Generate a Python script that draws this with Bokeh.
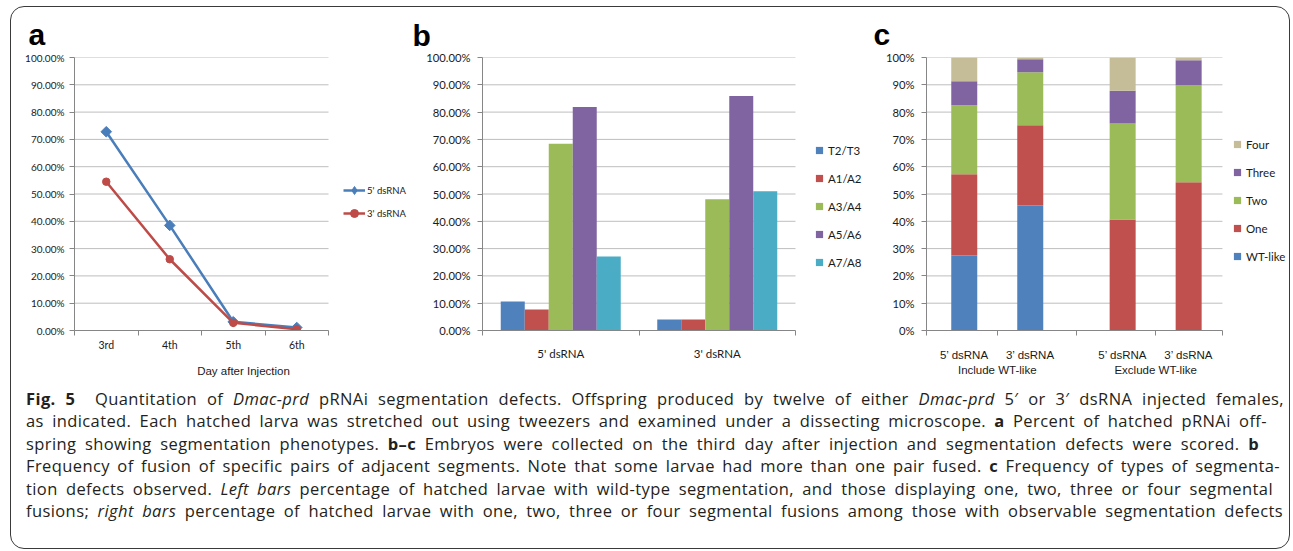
import numpy as np
from bokeh.plotting import figure
from bokeh.models import (ColumnDataSource, FixedTicker, NumeralTickFormatter, Legend,
                          LegendItem, LinearAxis, Range1d, Div, InlineStyleSheet)
from bokeh.layouts import row, column
from bokeh.embed import file_html
from bokeh.resources import INLINE
from bokeh.transform import dodge

# ---------------- data ----------------
days = ["3rd", "4th", "5th", "6th"]
a_5prime = [0.728, 0.385, 0.032, 0.011]
a_3prime = [0.545, 0.261, 0.028, 0.005]
a_series = ["5' dsRNA", "3' dsRNA"]

b_groups = ["5' dsRNA", "3' dsRNA"]
b_segments = ["T2/T3", "A1/A2", "A3/A4", "A5/A6", "A7/A8"]
b_T2T3 = [0.106, 0.040]
b_A1A2 = [0.077, 0.040]
b_A3A4 = [0.684, 0.481]
b_A5A6 = [0.819, 0.859]
b_A7A8 = [0.271, 0.510]

c_groups = ["Include WT-like", "Exclude WT-like"]
c_dsrna = ["5\u2019 dsRNA", "3\u2019 dsRNA"]
c_classes = ["WT-like", "One", "Two", "Three", "Four"]
c_wt = [0.275, 0.458, 0.0, 0.0]
c_one = [0.297, 0.294, 0.407, 0.543]
c_two = [0.253, 0.194, 0.351, 0.355]
c_three = [0.088, 0.048, 0.120, 0.092]
c_four = [0.087, 0.006, 0.122, 0.010]

# ---------------- style ----------------
BLUE, RED, GREEN, PURPLE, AQUA, TAN = "#4F81BD", "#C0504D", "#9BBB59", "#8064A2", "#4BACC6", "#C4BD97"
LINE_BLUE, LINE_RED = "#4A7EBB", "#BE4B48"
GRID = "#BEBEBE"
AXIS = "#868686"
TICKF = "Lato"
ARIAL = "Liberation Sans"
TXT = "#1a1a1a"
pct_ticks = [i / 10 for i in range(11)]
ROW_H = 388
TOP, BOTTOM = 57, 58
NAN = np.array([np.nan])


def style_y(p, fmt, size, standoff, x0, x1):
    ax = p.yaxis[0]
    ax.ticker = FixedTicker(ticks=pct_ticks)
    ax.formatter = NumeralTickFormatter(format=fmt)
    ax.axis_line_color = AXIS
    ax.major_tick_line_color = AXIS
    ax.major_tick_out = 5
    ax.major_tick_in = 0
    ax.minor_tick_line_color = None
    ax.major_label_standoff = standoff
    ax.major_label_text_font = TICKF
    ax.major_label_text_font_size = size
    ax.major_label_text_color = TXT
    p.ygrid.visible = False
    p.xgrid.visible = False
    p.outline_line_color = None
    # horizontal gridlines limited to the plotting area (legend sits to the right)
    p.segment(x0=[x0] * len(pct_ticks[1:]), x1=[x1] * len(pct_ticks[1:]),
              y0=pct_ticks[1:], y1=pct_ticks[1:], line_color=GRID, line_width=1)


def style_x(ax, size, font, standoff, x0, x1):
    ax.bounds = (x0, x1)
    ax.axis_line_color = AXIS
    ax.major_tick_line_color = None
    ax.major_tick_out = 0
    ax.major_tick_in = 0
    ax.minor_tick_line_color = AXIS
    ax.minor_tick_out = 5
    ax.minor_tick_in = 0
    ax.major_label_standoff = standoff
    ax.major_label_text_font = font
    ax.major_label_text_font_size = size
    ax.major_label_text_color = TXT


def style_title(p, letter, offset, standoff):
    p.title.text = letter
    p.title.align = "left"
    p.title.offset = offset
    p.title.standoff = standoff
    p.title.text_font = ARIAL
    p.title.text_font_size = "30px"
    p.title.text_font_style = "bold"
    p.title.text_color = "#000000"


def style_legend(lg, size):
    lg.label_text_font = TICKF
    lg.label_text_font_size = size
    lg.label_text_color = TXT
    lg.border_line_color = None
    lg.background_fill_alpha = 0
    lg.padding = 0
    lg.margin = 0


# ---------------- panel a ----------------
W_A = 412
xa = list(range(len(days)))
a0, a1 = -0.5, len(days) - 0.5
pxu_a = 63.5                                   # pixels per category
src_a = ColumnDataSource(dict(x=xa, day=days, s5=a_5prime, s3=a_3prime))
pa = figure(width=W_A, height=ROW_H, x_range=Range1d(a0, a0 + (W_A - 74) / pxu_a), y_range=Range1d(0, 1),
            output_backend="svg", toolbar_location=None,
            min_border_left=74, min_border_right=0, min_border_top=TOP, min_border_bottom=BOTTOM)
style_title(pa, "a", -46, 14)
style_y(pa, "0.00%", "10px", 5, a0, a1)
style_x(pa.xaxis[0], "10.5px", TICKF, 3, a0, a1)
pa.xaxis[0].ticker = FixedTicker(ticks=xa, minor_ticks=[i - 0.5 for i in range(len(days) + 1)])
pa.xaxis[0].major_label_overrides = {i: d for i, d in enumerate(days)}
pa.xaxis[0].axis_label = "Day after Injection"
pa.xaxis[0].axis_label_text_font = ARIAL
pa.xaxis[0].axis_label_text_font_size = "11.5px"
pa.xaxis[0].axis_label_text_font_style = "normal"
pa.xaxis[0].axis_label_text_color = TXT
pa.xaxis[0].axis_label_standoff = 11

l5 = pa.line("x", "s5", source=src_a, line_color=LINE_BLUE, line_width=2.5)
m5 = pa.scatter("x", "s5", source=src_a, marker="square", angle=np.pi / 4, size=7.5,
                fill_color=LINE_BLUE, line_color=LINE_BLUE)
l3 = pa.line("x", "s3", source=src_a, line_color=LINE_RED, line_width=2.5)
m3 = pa.scatter("x", "s3", source=src_a, marker="circle", size=7.5,
                fill_color=LINE_RED, line_color=LINE_RED)
k5 = pa.scatter(x=NAN, y=NAN, marker="diamond", fill_color=LINE_BLUE, line_color=LINE_BLUE)
lega = Legend(items=[LegendItem(label=a_series[0], renderers=[l5, k5]),
                     LegendItem(label=a_series[1], renderers=[l3, m3])],
              location=(269, 107), glyph_width=22, glyph_height=20, label_height=20,
              label_standoff=2, spacing=3)
style_legend(lega, "9.5px")
pa.add_layout(lega)

# ---------------- panel b ----------------
W_B = 870 - W_A
LB = 482 - W_A
xb = list(range(len(b_groups)))
b0, b1 = -0.5, len(b_groups) - 0.5
pxu_b = 156.5
src_b = ColumnDataSource(dict(x=xb, grp=b_groups, t2t3=b_T2T3, a1a2=b_A1A2, a3a4=b_A3A4,
                              a5a6=b_A5A6, a7a8=b_A7A8))
b_fields = ["t2t3", "a1a2", "a3a4", "a5a6", "a7a8"]
b_colors = [BLUE, RED, GREEN, PURPLE, AQUA]
pb = figure(width=W_B, height=ROW_H, x_range=Range1d(b0, b0 + (W_B - LB) / pxu_b), y_range=Range1d(0, 1),
            output_backend="svg", toolbar_location=None,
            min_border_left=LB, min_border_right=0, min_border_top=TOP, min_border_bottom=BOTTOM)
style_title(pb, "b", -LB, 12)
style_y(pb, "0.00%", "11.25px", 7, b0, b1)
style_x(pb.xaxis[0], "11.5px", TICKF, 11, b0, b1)
pb.xaxis[0].ticker = FixedTicker(ticks=xb, minor_ticks=[i - 0.5 for i in range(len(b_groups) + 1)])
pb.xaxis[0].major_label_overrides = {i: g for i, g in enumerate(b_groups)}
bw = 24 / pxu_b
nseg = len(b_segments)
leg_items_b = []
for i, (f, c, name) in enumerate(zip(b_fields, b_colors, b_segments)):
    pb.vbar(x=dodge("x", (i - (nseg - 1) / 2) * bw), top=f, width=bw, source=src_b,
            fill_color=c, line_color=None)
    key = pb.scatter(x=NAN, y=NAN, marker="square", fill_color=c, line_color=None)
    leg_items_b.append(LegendItem(label=name, renderers=[key]))
legb = Legend(items=leg_items_b, location=(328, 58), glyph_width=18, glyph_height=20,
              label_height=20, label_standoff=-4, spacing=8)
style_legend(legb, "11.5px")
pb.add_layout(legb)

# ---------------- panel c ----------------
step_in, step_group = 5, 12            # layout spacing of bars (within group / between groups)
xc = [g * step_group + k * step_in for g in range(len(c_groups)) for k in range(len(c_dsrna))]
labels_c = [d for g in c_groups for d in c_dsrna]
src_c = ColumnDataSource(dict(x=xc, wt=c_wt, one=c_one, two=c_two, three=c_three, four=c_four))
c_fields = ["wt", "one", "two", "three", "four"]
c_colors = [BLUE, RED, GREEN, PURPLE, TAN]
xs, xe = -2.86, 19.56
pxu_c = 13.2
W_C = 422
pc = figure(width=W_C, height=ROW_H, x_range=Range1d(xs, xs + (W_C - 56) / pxu_c), y_range=Range1d(0, 1),
            output_backend="svg", toolbar_location=None,
            min_border_left=56, min_border_right=0, min_border_top=TOP, min_border_bottom=BOTTOM)
style_title(pc, "c", -53, 14)
style_y(pc, "0%", "11.25px", 7, xs, xe)
ax1 = pc.xaxis[0]
style_x(ax1, "11.5px", ARIAL, 13, xs, xe)
mids = [(xc[i] + xc[i + 1]) / 2 for i in range(len(xc) - 1)]
ax1.ticker = FixedTicker(ticks=xc, minor_ticks=[xs] + mids + [xe])
ax1.major_label_overrides = {x: l for x, l in zip(xc, labels_c)}
gcent = [(xc[2 * g] + xc[2 * g + 1]) / 2 for g in range(len(c_groups))]
ax2 = LinearAxis(ticker=FixedTicker(ticks=gcent),
                 major_label_overrides={x: l for x, l in zip(gcent, c_groups)})
ax2.axis_line_color = None
ax2.major_tick_line_color = None
ax2.minor_tick_line_color = None
ax2.major_tick_out = 0
ax2.major_tick_in = 0
ax2.major_label_standoff = 0
ax2.major_label_text_font = ARIAL
ax2.major_label_text_font_size = "11.5px"
ax2.major_label_text_color = TXT
pc.add_layout(ax2, "below")
pc.vbar_stack(c_fields, x="x", width=26 / pxu_c, source=src_c, fill_color=c_colors, line_color=None)
leg_items_c = []
for name, c in zip(c_classes, c_colors):
    key = pc.scatter(x=NAN, y=NAN, marker="square", fill_color=c, line_color=None)
    leg_items_c.append(LegendItem(label=name, renderers=[key]))
legc = Legend(items=leg_items_c[::-1], location=(302, 64), glyph_width=18, glyph_height=20,
              label_height=20, label_standoff=-3, spacing=8)
style_legend(legc, "11.5px")
pc.add_layout(legc)

# ---------------- caption ----------------
cap_lines = [
    "<b>Fig.&nbsp;5</b>&nbsp;&nbsp;Quantitation of <i>Dmac-prd</i> pRNAi segmentation defects. Offspring produced by twelve of either <i>Dmac-prd</i> 5\u2032 or 3\u2032 dsRNA injected females,",
    "as indicated. Each hatched larva was stretched out using tweezers and examined under a dissecting microscope. <b>a</b> Percent of hatched pRNAi off-",
    "spring showing segmentation phenotypes. <b>b\u2013c</b> Embryos were collected on the third day after injection and segmentation defects were scored. <b>b</b>",
    "Frequency of fusion of specific pairs of adjacent segments. Note that some larvae had more than one pair fused. <b>c</b> Frequency of types of segmenta-",
    "tion defects observed. <i>Left bars</i> percentage of hatched larvae with wild-type segmentation, and those displaying one, two, three or four segmental",
    "fusions; <i>right bars</i> percentage of hatched larvae with one, two, three or four segmental fusions among those with observable segmentation defects",
]
cap_widths = [1258, 1241, 1233, 1254, 1247, 1257]
cap_html = ("<div style=\"font-family:'Open Sans'; font-size:16.5px; line-height:22.4px; color:#231F20; "
            "letter-spacing:0.4px; padding-left:26px;\">"
            + "".join("<div style='white-space:nowrap; width:%dpx; text-align:justify; "
                      "text-align-last:justify;'>%s</div>" % (w, l) for l, w in zip(cap_lines, cap_widths))
            + "</div>")
cap = Div(text=cap_html, width=W_A + W_B + W_C, height=550 - ROW_H, margin=0)

frame_css = InlineStyleSheet(css="""
:host { position: relative; }
:host::after {
  content: ""; position: absolute; left: 10px; top: 6px; width: 1280px; height: 543px;
  box-sizing: border-box; border: 1.5px solid #3a3a3a; border-radius: 14px; pointer-events: none;
}
""")
lay = column(row(pa, pb, pc), cap, stylesheets=[frame_css])

open("out.html", "w").write(file_html(lay, INLINE))
